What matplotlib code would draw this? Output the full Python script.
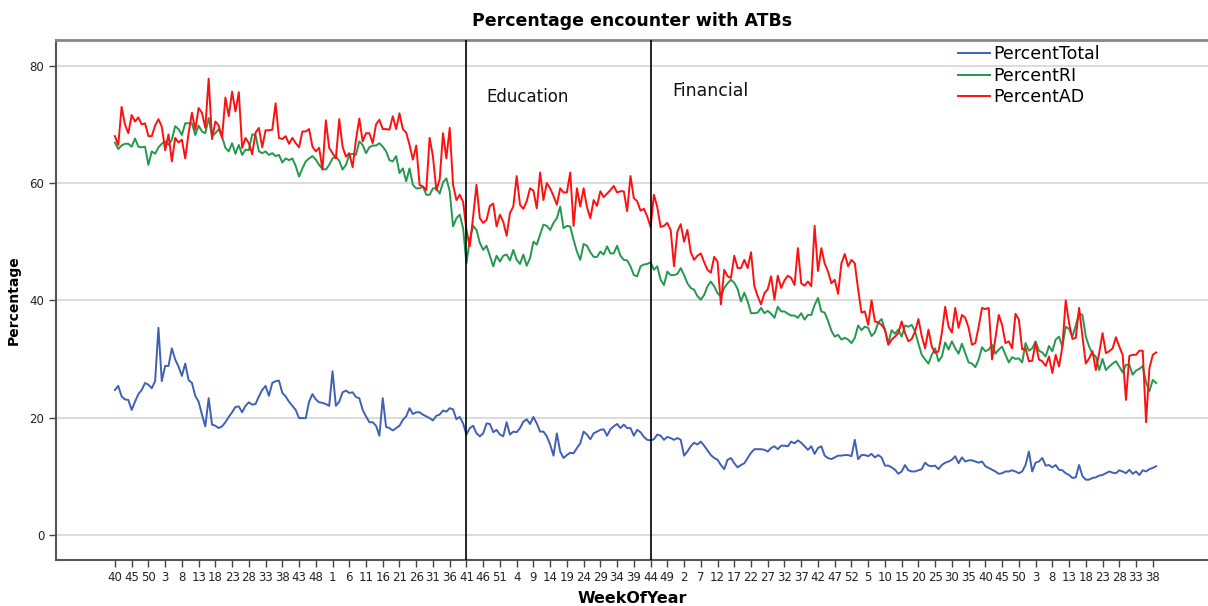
import numpy as np
import matplotlib
matplotlib.use("Agg")
import matplotlib.pyplot as plt

pct_ad = [
    68, 66.5, 73, 70, 68.5, 71.6, 70.5, 71.2, 70, 70.2,
    68, 68, 69.8, 70.9, 69.6, 65.6, 68.3, 63.7, 67.7, 66.9,
    67.4, 64.2, 68.5, 72, 69.1, 72.8, 72, 69.4, 77.8, 67.5,
    70.5, 69.8, 67.7, 74.6, 71.4, 75.6, 72.2, 75.5, 66, 67.7,
    66.8, 64.9, 68.6, 69.4, 66.1, 69, 69, 69.1, 73.6, 67.7,
    67.5, 68, 66.7, 67.7, 66.8, 66.1, 68.8, 68.8, 69.2, 66.2,
    65.4, 66, 62.3, 70.7, 66, 65.1, 64.2, 70.9, 66.2, 64.5,
    65.1, 62.7, 67.4, 71, 67.1, 68.5, 68.5, 66.8, 70, 70.8,
    69.2, 69.2, 69.1, 71.4, 69.2, 71.9, 69.2, 68.6, 66.5, 64,
    66.4, 59.7, 59.4, 58.8, 67.7, 64.5, 58.8, 60.6, 68.5, 64.2,
    69.4, 59.7, 57.1, 58, 56.8, 52, 49.2, 54.3, 59.7, 54,
    53.2, 53.7, 56.1, 56.5, 52.6, 54.6, 53.4, 51, 54.9, 56,
    61.2, 56.3, 55.6, 56.9, 59.1, 58.7, 55.7, 61.8, 57.1, 60,
    59.1, 57.8, 56.3, 59.1, 58.4, 58.4, 61.8, 52.7, 59.1, 56,
    59.1, 55.9, 54, 57.1, 56.1, 58.6, 57.6, 58.2, 58.8, 59.5,
    58.4, 58.6, 58.6, 55.2, 61.2, 57.4, 56.9, 55.3, 55.6, 54.3,
    52.5, 58, 55.9, 52.5, 52.7, 53.2, 52, 45.8, 51.7, 53,
    50, 52, 48.2, 46.9, 47.6, 48, 46.5, 45.2, 44.7, 47.4,
    46.6, 39.3, 45.2, 44.1, 43.8, 47.6, 45.5, 45.5, 46.9, 45.5,
    48.2, 42.4, 40.7, 39.3, 41.2, 41.9, 44.1, 40.1, 44.2, 42.1,
    43.4, 44.2, 43.8, 42.6, 48.9, 42.9, 42.5, 43.2, 42.4, 52.7,
    45, 48.9, 46.3, 44.9, 42.9, 43.5, 41.1, 46.3, 47.9, 45.8,
    46.9, 46.3, 41.8, 37.9, 38.1, 35.8, 40, 36.4, 36.2, 35.8,
    35, 32.4, 33.3, 33.8, 34.4, 36.4, 34.4, 33, 33.4, 34.7,
    36.8, 33.9, 31.8, 35, 32.1, 31, 31.3, 34.4, 38.9, 35.5,
    34.5, 38.7, 35.3, 37.5, 37, 35.3, 32.4, 32.7, 35.5, 38.7,
    38.5, 38.7, 29.9, 33.5, 37.5, 35.8, 32.7, 33, 31.8, 37.7,
    36.7, 31.6, 31.8, 29.6, 29.7, 32.7, 29.9, 29.6, 28.8, 30.4,
    27.6, 30.7, 28.7, 32.1, 40, 36.1, 33.4, 33.6, 38.7, 33.8,
    29.2, 30.1, 31.3, 28.1, 31, 34.4, 31, 31.3, 31.8, 33.7,
    32.1, 30.7, 23, 30.5, 30.7, 30.7, 31.4, 31.4, 19.2, 28.4,
    30.7, 31.1,
]

pct_ri = [
    66.9, 65.8, 66.4, 66.7, 66.7, 66.2, 67.6, 66.2, 66.1, 66.2,
    63.1, 65.4, 65, 66.1, 66.7, 67.1, 66.5, 67.4, 69.7, 69.2,
    68.2, 70.2, 70.2, 70.2, 68.2, 69.8, 68.8, 68.5, 71.1, 68,
    68.5, 69.2, 67.9, 66, 65.4, 66.8, 65, 66.5, 64.8, 65.7,
    65.6, 68.3, 68.2, 65.4, 65.1, 65.4, 64.8, 65.1, 64.6, 64.8,
    63.5, 64.2, 63.9, 64.2, 62.9, 61.1, 62.5, 63.7, 64.2, 64.6,
    64, 63.1, 62.4, 62.3, 63.1, 64.2, 64.5, 63.8, 62.3, 63.1,
    64.8, 65, 64.8, 67.1, 66.5, 65.1, 66.1, 66.4, 66.4, 66.8,
    66.2, 65.4, 63.9, 63.7, 64.6, 61.7, 62.5, 60.3, 62.5, 59.7,
    59.1, 59.1, 59.4, 58, 58, 59.1, 59.1, 58.2, 60.1, 60.8,
    58.6, 52.6, 54, 54.6, 52.3, 46.3, 50.3, 52.7, 52, 49.8,
    48.6, 49.3, 47.6, 45.8, 47.6, 46.6, 47.6, 47.8, 46.8, 48.6,
    46.9, 46.2, 47.8, 45.9, 47.2, 50, 49.5, 51.2, 52.9, 52.7,
    52, 53.2, 54, 56, 52.3, 52.7, 52.6, 50.3, 48.3, 46.9,
    49.6, 49.3, 48.2, 47.4, 47.4, 48.3, 47.8, 49.2, 48, 48,
    49.3, 47.6, 46.9, 46.8, 45.8, 44.3, 44.1, 45.8, 46.1, 46.2,
    46.5, 45.2, 45.8, 43.5, 42.6, 44.9, 44.3, 44.3, 44.5, 45.5,
    44.3, 42.9, 42.1, 41.8, 40.7, 40.1, 40.9, 42.4, 43.2, 42.4,
    41.2, 40.7, 42.1, 42.9, 43.5, 43, 41.9, 39.8, 41.3, 39.8,
    37.8, 37.8, 37.9, 38.7, 37.8, 38.2, 37.7, 37, 38.9, 38.1,
    38.1, 37.7, 37.4, 37.4, 37, 37.8, 36.7, 37.5, 37.5, 39.2,
    40.4, 38.1, 37.9, 36.5, 34.8, 33.8, 34.1, 33.3, 33.6, 33.3,
    32.7, 33.6, 35.7, 34.9, 35.5, 35.3, 33.9, 34.5, 36.2, 36.8,
    35, 32.7, 34.9, 34.3, 35, 33.8, 35.7, 35.5, 35.8, 34.7,
    32.6, 30.7, 29.9, 29.2, 30.7, 31.8, 29.6, 30.4, 32.8, 31.6,
    33, 31.8, 30.9, 32.6, 31, 29.4, 29.2, 28.6, 29.9, 32,
    31.3, 31.6, 32.4, 30.9, 31.6, 32.1, 30.7, 29.4, 30.3, 30,
    30.1, 29.4, 32.7, 31.4, 31.8, 33, 31.4, 31.1, 30.4, 32.2,
    31.3, 33.3, 33.8, 32.1, 35.5, 35.1, 33.8, 35.7, 37.8, 37.5,
    33.8, 32.1, 30.9, 30.4, 28.1, 30, 28.1, 28.7, 29.2, 29.6,
    28.7, 27.7, 29, 29, 27.3, 28, 28.3, 28.8, 26, 24.5,
    26.4, 25.9,
]

pct_total = [
    24.7, 25.4, 23.6, 23.1, 23, 21.3, 22.7, 24, 24.7, 25.9,
    25.6, 25, 26.2, 35.3, 26.2, 28.8, 28.8, 31.8, 29.9, 28.7,
    27.1, 29.2, 26.4, 25.9, 23.7, 22.7, 20.5, 18.5, 23.3, 18.8,
    18.6, 18.2, 18.5, 19.2, 20.1, 20.9, 21.8, 21.9, 20.9, 22,
    22.6, 22.2, 22.3, 23.6, 24.7, 25.4, 23.7, 25.9, 26.2, 26.3,
    24.2, 23.6, 22.7, 22, 21.3, 19.9, 19.9, 19.9, 22.7, 24,
    23.1, 22.6, 22.5, 22.3, 22, 27.9, 22, 22.7, 24.3, 24.6,
    24.2, 24.3, 23.5, 23.3, 21.3, 20.2, 19.2, 19.2, 18.6, 16.9,
    23.3, 18.4, 18.2, 17.8, 18.2, 18.6, 19.6, 20.2, 21.6, 20.6,
    20.9, 20.9, 20.5, 20.2, 19.9, 19.5, 20.3, 20.5, 21.2, 21,
    21.6, 21.4, 19.7, 20.1, 19, 17.1, 18.2, 18.6, 17.3, 16.8,
    17.3, 19, 18.9, 17.5, 17.9, 17.1, 16.8, 19.2, 17.1, 17.6,
    17.5, 18.2, 19.3, 19.7, 18.9, 20.1, 19, 17.6, 17.6, 16.8,
    15.4, 13.5, 17.3, 14.2, 13.1, 13.6, 14, 13.9, 14.8, 15.6,
    17.6, 17.1, 16.3, 17.3, 17.6, 17.9, 18, 16.9, 18, 18.5,
    18.9, 18.2, 18.8, 18.2, 18.2, 16.9, 17.9, 17.5, 16.7, 16.2,
    16.1, 16.3, 17.1, 16.9, 16.2, 16.7, 16.5, 16.2, 16.5, 16.2,
    13.5, 14.2, 15.1, 15.7, 15.4, 15.9, 15.2, 14.4, 13.6, 13.1,
    12.8, 11.9, 11.2, 12.8, 13.1, 12.2, 11.5, 11.9, 12.2, 13.1,
    14, 14.6, 14.6, 14.6, 14.5, 14.2, 14.8, 15.1, 14.6, 15.2,
    15.2, 15.1, 15.9, 15.6, 16.1, 15.7, 15.1, 14.5, 15.1, 13.8,
    14.8, 15.1, 13.5, 13.1, 12.9, 13.2, 13.5, 13.5, 13.6, 13.6,
    13.4, 16.2, 12.9, 13.6, 13.6, 13.4, 13.8, 13.2, 13.6, 13.2,
    11.8, 11.8, 11.5, 11.1, 10.4, 10.8, 11.9, 11, 10.8, 10.8,
    11, 11.2, 12.3, 11.8, 11.7, 11.8, 11.2, 11.9, 12.3, 12.5,
    12.8, 13.4, 12.2, 13.2, 12.5, 12.7, 12.7, 12.5, 12.3, 12.5,
    11.7, 11.4, 11.1, 10.8, 10.4, 10.5, 10.8, 10.8, 11, 10.8,
    10.5, 10.8, 11.9, 14.2, 10.8, 12.3, 12.5, 13.1, 11.8, 11.9,
    11.5, 11.9, 11.1, 11, 10.5, 10.2, 9.7, 9.8, 11.9, 10,
    9.4, 9.4, 9.7, 9.8, 10.1, 10.2, 10.5, 10.8, 10.6, 10.5,
    11, 10.8, 10.5, 11.1, 10.4, 10.8, 10.2, 11, 10.8, 11.2,
    11.4, 11.7,
]

week_tick_labels = ["40", "45", "50", "3", "8", "13", "18", "23", "28", "33", "38", "43", "48",
                    "1", "6", "11", "16", "21", "26", "31", "36", "41", "46", "51",
                    "4", "9", "14", "19", "24", "29", "34", "39", "44", "49",
                    "2", "7", "12", "17", "22", "27", "32", "37", "42", "47", "52",
                    "5", "10", "15", "20", "25", "30", "35", "40", "45", "50",
                    "3", "8", "13", "18", "23", "28", "33", "38"]
tick_step = 5

event_names = ["Education", "Financial"]
event_index = [105, 160]

series_names = ["PercentTotal", "PercentRI", "PercentAD"]
series_colors = ["#4060b4", "#23984f", "#ff1010"]

W, H = 1208, 606
fig = plt.figure(figsize=(W / 100, H / 100), dpi=100)
ax = fig.add_axes([56 / W, 1 - 560 / H, 1 - 56 / W, (560 - 40) / H])

x = np.arange(len(pct_total))
for vals, name, col in zip([pct_total, pct_ri, pct_ad], series_names, series_colors):
    ax.plot(x, vals, color=col, lw=1.4, label=name, zorder=3)

for ev in event_index:
    ax.axvline(ev, color="black", lw=1.2, zorder=4)

ax.text(111, 74.7, event_names[0], fontsize=12, va="center", ha="left", color="#111111")
ax.text(166.5, 75.7, event_names[1], fontsize=12.5, va="center", ha="left", color="#111111")

ax.set_xlim(-17.6, 326.5)
ax.set_ylim(-4.3, 84.4)
ax.set_yticks([0, 20, 40, 60, 80])
ax.set_xticks(np.arange(0, tick_step * len(week_tick_labels), tick_step))
ax.set_xticklabels(week_tick_labels, fontsize=8.5, color="#222222")
ax.tick_params(axis="y", labelsize=8.5, labelcolor="#222222", length=5, width=1, color="#444444")
ax.tick_params(axis="x", length=5, width=1, color="#444444", pad=3)
ax.grid(axis="y", color="#d9d9d9", lw=1.3, zorder=0)
ax.set_axisbelow(True)

for s in ["left", "bottom"]:
    ax.spines[s].set_color("#555555")
    ax.spines[s].set_linewidth(1.5)
ax.spines["top"].set_color("#888888")
ax.spines["top"].set_linewidth(2)
ax.spines["right"].set_visible(False)

ax.set_title("Percentage encounter with ATBs", fontsize=12.5, fontweight="bold", pad=10)
ax.set_xlabel("WeekOfYear", fontsize=11.5, fontweight="bold", labelpad=5)
ax.set_ylabel("Percentage", fontsize=10, fontweight="bold", labelpad=6)

leg = ax.legend(loc="upper left", bbox_to_anchor=((958 - 56) / (W - 56), 0.99),
                frameon=False, fontsize=12.5, handlelength=1.85, handletextpad=0.2,
                borderpad=0, borderaxespad=0, labelspacing=0.2)

fig.savefig("out.png", dpi=100)
